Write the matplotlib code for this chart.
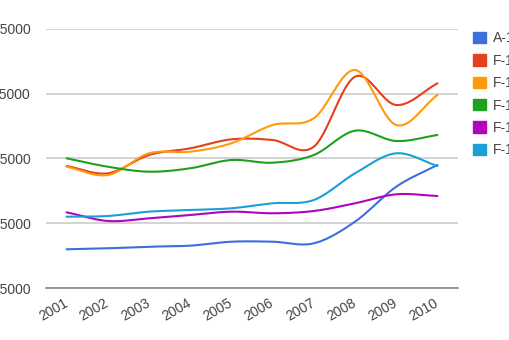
import matplotlib.pyplot as plt
import numpy as np

years = [2001, 2002, 2003, 2004, 2005, 2006, 2007, 2008, 2009, 2010]
series_names = ["A-1", "F-1", "F-1", "F-1", "F-1", "F-1"]
series_colors = ["#3d6fdc", "#e5401c", "#ff9a0a", "#1f9f1f", "#b005b9", "#1aa0d6"]

a1 = [20980, 21130, 21380, 21540, 22150, 22150, 21900, 25240, 30640, 33990]
f_red = [33840, 32710, 35540, 36570, 37960, 37860, 36820, 47630, 43260, 46610]
f_orange = [33730, 32450, 35800, 36050, 37350, 40170, 41210, 48670, 40170, 44810]
f_green = [35030, 33730, 32960, 33490, 34770, 34350, 35540, 39290, 37700, 38630]
f_purple = [26690, 25350, 25760, 26270, 26790, 26540, 26890, 28080, 29470, 29210]
f_cyan = [26010, 26120, 26790, 27050, 27310, 28080, 28590, 32710, 35800, 33840]
all_series = [a1, f_red, f_orange, f_green, f_purple, f_cyan]

y_ticks = [15000, 25000, 35000, 45000, 55000]


def smooth(xs, ys, n=20):
    # catmull-rom style curve through the points (like curveType 'function')
    xs = np.asarray(xs, float)
    ys = np.asarray(ys, float)
    px = np.concatenate([[2 * xs[0] - xs[1]], xs, [2 * xs[-1] - xs[-2]]])
    py = np.concatenate([[2 * ys[0] - ys[1]], ys, [2 * ys[-1] - ys[-2]]])
    ox, oy = [], []
    t = np.linspace(0, 1, n, endpoint=False)
    for i in range(1, len(px) - 2):
        for p, out in ((px, ox), (py, oy)):
            p0, p1, p2, p3 = p[i - 1], p[i], p[i + 1], p[i + 2]
            out.extend(0.5 * ((2 * p1) + (-p0 + p2) * t
                              + (2 * p0 - 5 * p1 + 4 * p2 - p3) * t ** 2
                              + (-p0 + 3 * p1 - 3 * p2 + p3) * t ** 3))
    ox.append(xs[-1])
    oy.append(ys[-1])
    return np.array(ox), np.array(oy)


plt.rcParams['font.family'] = ['Liberation Sans', 'DejaVu Sans']

fig = plt.figure(figsize=(5.1, 3.4), dpi=100)
ax = fig.add_axes([46 / 510, 1 - 288 / 340, (458 - 46) / 510, (288 - 29) / 340])

for vals, col, name in zip(all_series, series_colors, series_names):
    sx, sy = smooth(years, vals)
    ax.plot(sx, sy, color=col, lw=1.5, label=name, solid_capstyle='round')

ax.set_xlim(2000.5, 2010.5)
ax.set_ylim(15000, 55000)
ax.set_yticks(y_ticks)
ax.set_yticklabels([str(v) for v in y_ticks])
ax.set_xticks(years)
ax.set_xticklabels([str(y) for y in years], rotation=30, ha='right',
                   rotation_mode='anchor')
ax.tick_params(axis='both', length=0, labelsize=10, labelcolor='#444444')
ax.tick_params(axis='y', pad=11)
ax.tick_params(axis='x', pad=10)
for tick in ax.get_xticklabels():
    tick.set_va('center')

ax.grid(axis='y', color='#cccccc', lw=1.2)
ax.set_axisbelow(True)
for s in ['top', 'right', 'left']:
    ax.spines[s].set_visible(False)
ax.spines['bottom'].set_color('#888888')
ax.spines['bottom'].set_linewidth(1.2)

handles = [plt.Rectangle((0, 0), 1, 1, color=c) for c in series_colors]
fig.legend(handles, series_names, loc='upper left',
           bbox_to_anchor=(461 / 510, 1 - 19 / 340), frameon=False,
           fontsize=10, handlelength=0.9, handleheight=0.9,
           handletextpad=0.5, labelspacing=0.6, labelcolor='#444444')

fig.savefig("out.png", dpi=100)
